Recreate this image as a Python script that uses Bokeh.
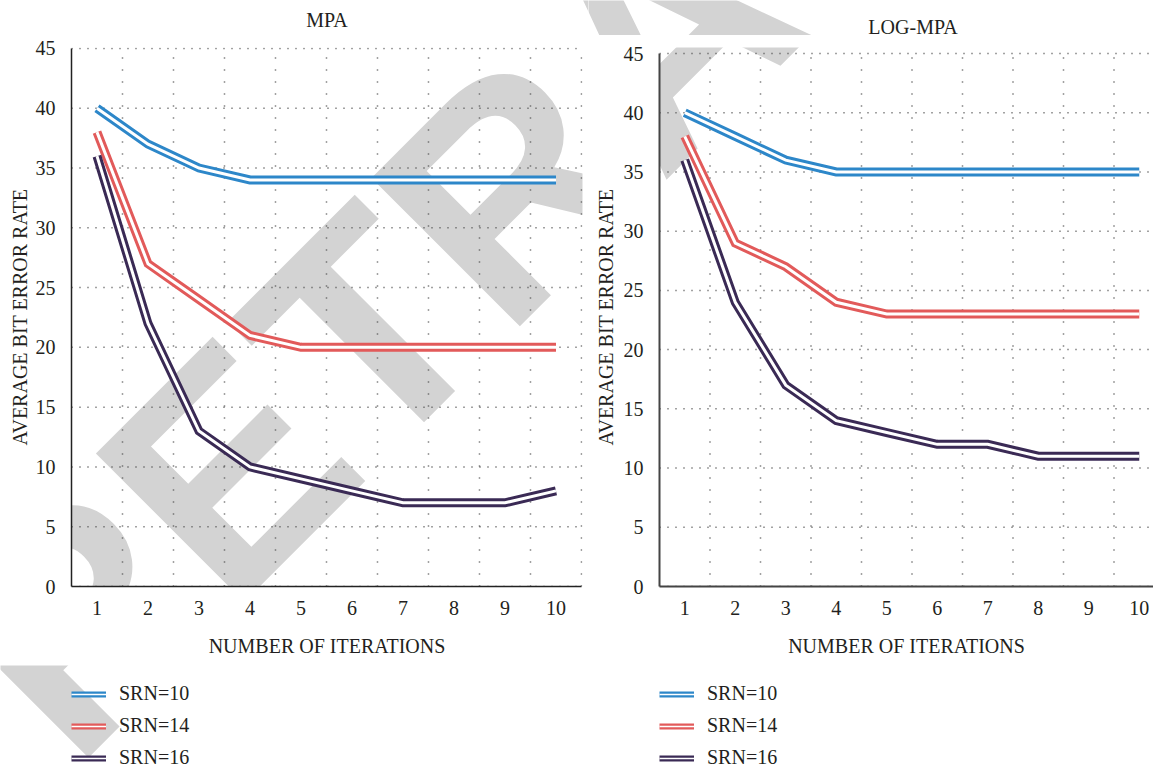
from bokeh.plotting import figure
from bokeh.layouts import row, column
from bokeh.models import FixedTicker, Legend, LegendItem, Label, Range1d
from bokeh.embed import file_html
from bokeh.resources import INLINE

# ---------------- data ----------------
iterations = [1, 2, 3, 4, 5, 6, 7, 8, 9, 10]
series_names = ["SRN=10", "SRN=14", "SRN=16"]

mpa_srn10 = [40, 37, 35, 34, 34, 34, 34, 34, 34, 34]
mpa_srn14 = [38, 27, 24, 21, 20, 20, 20, 20, 20, 20]
mpa_srn16 = [36, 22, 13, 10, 9, 8, 7, 7, 7, 8]

log_srn10 = [40, 38, 36, 35, 35, 35, 35, 35, 35, 35]
log_srn14 = [38, 29, 27, 24, 23, 23, 23, 23, 23, 23]
log_srn16 = [36, 24, 17, 14, 13, 12, 12, 11, 11, 11]

y_ticks = [0, 5, 10, 15, 20, 25, 30, 35, 40, 45]
x_grid_ticks = [1.5, 2.5, 3.5, 4.5, 5.5, 6.5, 7.5, 8.5, 9.5, 10.5]

panel_titles = ["MPA", "LOG-MPA"]
x_label = "NUMBER OF ITERATIONS"
y_label = "AVERAGE BIT ERROR RATE"
watermark_text = "RETRACTED"

colors = ["#2d87c9", "#e25a5a", "#3a2a55"]
TEXT = "#231f20"
SERIF = "Liberation Serif"
FS = "20px"
NAN = float("nan")

# ---------------- layout (page pixels) ----------------
COL_X = [0, 588]          # page x of the two columns
COL_W = [588, 565]
TITLE_H, MAIN_H, LEG_H = 35, 630, 100
TITLE_Y, MAIN_Y, LEG_Y = 0, 35, 665
MB_TOP, MB_BOTTOM = 12, 79
WM = dict(x=-1, y=697, angle=45, size="305px")


def add_watermark(p, fig_x, fig_y, fig_h, mb_left, mb_bottom):
    frame_left = fig_x + mb_left
    frame_bottom = fig_y + fig_h - mb_bottom
    p.add_layout(Label(text=watermark_text, x=WM["x"] - frame_left,
                       y=frame_bottom - WM["y"], x_units="screen",
                       y_units="screen", angle=WM["angle"], angle_units="deg",
                       text_font="Liberation Sans", text_font_style="bold",
                       text_font_size=WM["size"], text_color="#d3d3d3",
                       text_align="left", text_baseline="alphabetic",
                       level="image"))


def blank_fig(w, h):
    f = figure(width=w, height=h, x_range=Range1d(0, 1), y_range=Range1d(0, 1),
               x_axis_type=None, y_axis_type=None, output_backend="svg",
               toolbar_location=None, min_border=0)
    f.outline_line_color = None
    f.background_fill_color = "white"
    f.border_fill_color = "white"
    f.xgrid.visible = False
    f.ygrid.visible = False
    return f


def title_fig(i, text, cx, cy):
    f = blank_fig(COL_W[i], TITLE_H)
    add_watermark(f, COL_X[i], TITLE_Y, TITLE_H, 0, 0)
    f.add_layout(Label(text=text, x=cx - COL_X[i], y=TITLE_Y + TITLE_H - cy,
                       x_units="screen", y_units="screen", text_font=SERIF,
                       text_font_size=FS, text_color=TEXT, text_align="center",
                       text_baseline="middle"))
    return f


def legend_fig(i, glyph_x):
    f = blank_fig(COL_W[i], LEG_H)
    add_watermark(f, COL_X[i], LEG_Y, LEG_H, 0, 0)
    items = []
    for name, c in zip(series_names, colors):
        l1 = f.line([NAN], [NAN], line_color=c, line_width=6)
        l2 = f.line([NAN], [NAN], line_color="white", line_width=1.5)
        items.append(LegendItem(label=name, renderers=[l1, l2]))
    leg = Legend(items=items, location=(glyph_x - COL_X[i], -4),
                 orientation="vertical", border_line_color=None,
                 background_fill_alpha=0, padding=0, margin=0, spacing=9,
                 glyph_width=35, glyph_height=20, label_height=20,
                 label_standoff=13, label_text_font=SERIF,
                 label_text_font_size=FS, label_text_color=TEXT)
    f.add_layout(leg)
    return f


def main_fig(i, series, mb_left, mb_right, x_end, y_end, axis_color, axis_w,
             ylabel_standoff):
    p = figure(width=COL_W[i], height=MAIN_H, x_range=Range1d(0.5, x_end),
               y_range=Range1d(0, y_end), output_backend="svg",
               toolbar_location=None, min_border_left=mb_left,
               min_border_right=mb_right, min_border_top=MB_TOP,
               min_border_bottom=MB_BOTTOM)
    p.outline_line_color = None
    p.background_fill_color = "white"
    p.border_fill_color = "white"
    add_watermark(p, COL_X[i], MAIN_Y, MAIN_H, mb_left, MB_BOTTOM)

    p.xgrid.visible = False
    p.ygrid.visible = False
    # dotted grid, drawn from the tick lists
    n = len(x_grid_ticks)
    p.segment(x0=x_grid_ticks, y0=[0] * n, x1=x_grid_ticks, y1=[45] * n,
              line_color="#444444", line_width=1.5, line_dash="1 11")
    m = len(y_ticks)
    p.segment(x0=[0.5] * m, y0=y_ticks, x1=[10.5] * m, y1=y_ticks,
              line_color="#444444", line_width=1.5, line_dash="1 7")

    for ax in (p.xaxis[0], p.yaxis[0]):
        ax.major_tick_line_color = None
        ax.minor_tick_line_color = None
        ax.major_label_text_font = SERIF
        ax.major_label_text_font_size = FS
        ax.major_label_text_color = TEXT
        ax.axis_label_text_font = SERIF
        ax.axis_label_text_font_size = FS
        ax.axis_label_text_font_style = "normal"
        ax.axis_label_text_color = TEXT
        ax.axis_line_color = axis_color
        ax.axis_line_width = axis_w
    p.xaxis.ticker = FixedTicker(ticks=iterations)
    p.yaxis.ticker = FixedTicker(ticks=y_ticks)
    p.xaxis.bounds = (0.5, 10.5)
    p.yaxis.bounds = (0, 45)
    p.xaxis.axis_label = x_label
    p.yaxis.axis_label = y_label
    p.xaxis.major_label_standoff = 8
    p.xaxis.axis_label_standoff = 17
    p.yaxis.major_label_standoff = 10
    p.yaxis.axis_label_standoff = ylabel_standoff

    for ys, c in zip(series, colors):
        p.line(iterations, ys, line_color=c, line_width=9,
               line_join="miter", line_cap="butt")
        p.line(iterations, ys, line_color="white", line_width=3,
               line_join="miter", line_cap="butt")
    return p


t_left = title_fig(0, panel_titles[0], 326.5, 19)
t_right = title_fig(1, panel_titles[1], 912.5, 26)

m_left = main_fig(0, [mpa_srn10, mpa_srn14, mpa_srn16], 71, 6, 10.52, 45.08,
                  "#222222", 1.5, 2)
# right panel: 0 at page 586, 45 at page 53, frame top at page 47
m_right = main_fig(1, [log_srn10, log_srn14, log_srn16], 71, 0,
                   0.5 + 494 / 50.5, 45 * 539 / 533, "#444444", 2, 4)

l_left = legend_fig(0, 71)
l_right = legend_fig(1, 659)

layout = column(row(t_left, t_right), row(m_left, m_right),
                row(l_left, l_right))
open("out.html", "w").write(file_html(layout, INLINE))
